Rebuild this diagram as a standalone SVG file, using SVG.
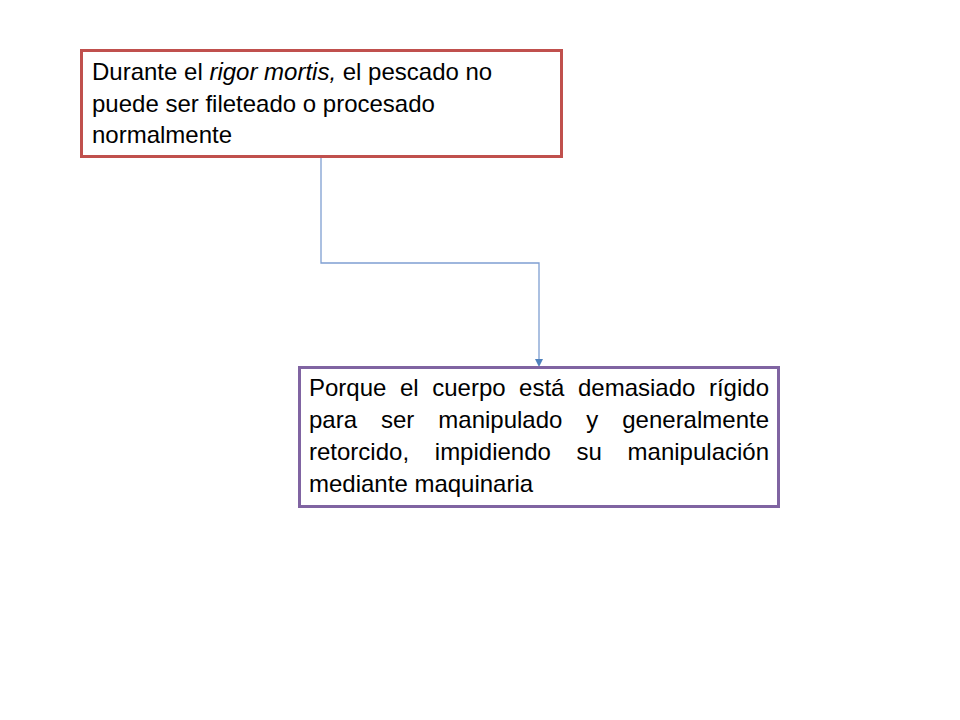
<svg xmlns="http://www.w3.org/2000/svg" width="960" height="720" viewBox="0 0 960 720">
<style>
.t{font-family:"Liberation Sans",Arial,sans-serif;font-size:24px;fill:#000}
.e{text-anchor:end}
.box{fill:#fff;stroke-width:3}
</style>
<rect width="960" height="720" fill="#fff"/>
<g id="connectors">
<path d="M321,157 V263 H539 V360" fill="none" stroke="#7F9FD2" stroke-width="1.3"/>
<path d="M535,359 L543,359 L539,367 Z" fill="#4F81BD"/>
</g>
<g id="node1">
<rect class="box" x="81.5" y="50.5" width="480" height="106" stroke="#C0504D"/>
<text class="t" x="92" y="80">Durante el <tspan font-style="italic">rigor mortis,</tspan> el pescado no</text>
<text class="t" x="92" y="112">puede ser fileteado o procesado</text>
<text class="t" x="92" y="143">normalmente</text>
</g>
<g id="node2">
<rect class="box" x="299.5" y="367.5" width="479" height="139" stroke="#8064A2"/>
<text class="t" x="309" y="395.5">Porque</text>
<text class="t" x="399.9" y="395.5">el</text>
<text class="t" x="432.2" y="395.5">cuerpo</text>
<text class="t" x="519.1" y="395.5">está</text>
<text class="t" x="578" y="395.5">demasiado</text>
<text class="t e" x="769" y="395.5">rígido</text>
<text class="t" x="309" y="427.5">para</text>
<text class="t" x="381" y="427.5">ser</text>
<text class="t" x="438.3" y="427.5">manipulado</text>
<text class="t" x="586.3" y="427.5">y</text>
<text class="t e" x="769" y="427.5">generalmente</text>
<text class="t" x="309" y="459.5">retorcido,</text>
<text class="t" x="434.8" y="459.5">impidiendo</text>
<text class="t" x="576.5" y="459.5">su</text>
<text class="t e" x="769" y="459.5">manipulación</text>
<text class="t" x="309" y="491.5">mediante maquinaria</text>
</g>
</svg>
